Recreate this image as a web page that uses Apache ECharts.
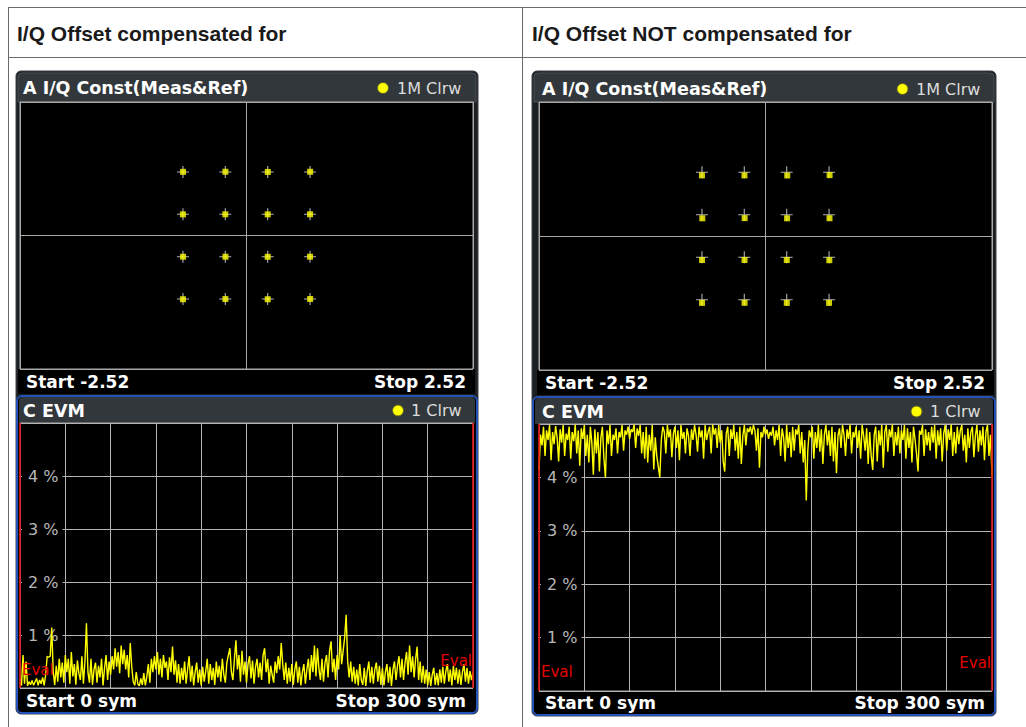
<!DOCTYPE html>
<html>
<head>
<meta charset="utf-8">
<style>
  html, body { margin: 0; padding: 0; background: #fff; }
  #chart { width: 1026px; height: 727px; }
</style>
<script src="https://cdn.jsdelivr.net/npm/echarts@6/dist/echarts.min.js"></script>
</head>
<body>
<div id="chart"></div>
<script>
// column headings
const headings = ['I/Q Offset compensated for', 'I/Q Offset NOT compensated for'];

// 16QAM reference points [I, Q]
const refPoints = [
  [-0.707, 0.707], [-0.236, 0.707], [0.236, 0.707], [0.707, 0.707],
  [-0.707, 0.236], [-0.236, 0.236], [0.236, 0.236], [0.707, 0.236],
  [-0.707, -0.236], [-0.236, -0.236], [0.236, -0.236], [0.707, -0.236],
  [-0.707, -0.707], [-0.236, -0.707], [0.236, -0.707], [0.707, -0.707]
];
// measured points, offset compensated
const measCompensated = [
  [-0.706, 0.708], [-0.235, 0.709], [0.237, 0.707], [0.708, 0.709],
  [-0.707, 0.235], [-0.236, 0.236], [0.236, 0.235], [0.707, 0.236],
  [-0.706, -0.236], [-0.234, -0.236], [0.236, -0.237], [0.707, -0.236],
  [-0.707, -0.709], [-0.235, -0.707], [0.236, -0.709], [0.708, -0.706]
];
// measured points, offset NOT compensated
const measOffset = [
  [-0.707, 0.672], [-0.234, 0.672], [0.242, 0.671], [0.713, 0.675],
  [-0.703, 0.196], [-0.232, 0.198], [0.240, 0.196], [0.712, 0.197],
  [-0.706, -0.266], [-0.233, -0.266], [0.237, -0.266], [0.710, -0.268],
  [-0.706, -0.741], [-0.233, -0.740], [0.237, -0.741], [0.707, -0.741]
];

// EVM in %, symbol 0..300
const evmCompensated = [
  0.10,0.05,0.62,0.08,0.50,0.04,0.12,0.06,0.14,0.05,
  0.12,0.18,0.05,0.15,0.08,0.20,0.05,0.25,0.60,0.58,
  0.60,1.14,0.30,0.06,0.42,0.12,0.55,0.20,0.48,0.10,
  0.62,0.30,0.55,0.08,0.68,0.22,0.45,0.06,0.52,0.28,
  0.15,0.60,0.08,0.50,1.22,0.30,0.10,0.55,0.06,0.35,
  0.48,0.10,0.42,0.20,0.55,0.05,0.38,0.62,0.15,0.50,
  0.25,0.60,0.35,0.75,0.40,0.68,0.28,0.80,0.45,0.72,
  0.35,0.62,0.20,0.85,0.40,0.12,0.05,0.30,0.08,0.04,
  0.18,0.06,0.28,0.05,0.22,0.45,0.10,0.55,0.30,0.60,
  0.35,0.68,0.25,0.55,0.20,0.62,0.38,0.50,0.15,0.58,
  0.30,0.78,0.25,0.52,0.10,0.45,0.08,0.38,0.15,0.50,
  0.08,0.35,0.60,0.12,0.42,0.05,0.30,0.48,0.10,0.35,
  0.05,0.40,0.12,0.32,0.55,0.08,0.45,0.15,0.38,0.06,
  0.50,0.20,0.42,0.12,0.55,0.25,0.10,0.48,0.62,0.75,
  0.30,0.15,0.55,0.90,0.35,0.62,0.12,0.70,0.25,0.50,
  0.10,0.45,0.60,0.18,0.52,0.08,0.40,0.55,0.20,0.48,
  0.15,0.62,0.75,0.30,0.55,0.08,0.42,0.25,0.10,0.50,
  0.28,0.60,0.35,0.85,0.45,0.15,0.48,0.08,0.38,0.12,
  0.45,0.06,0.35,0.50,0.10,0.40,0.05,0.30,0.45,0.08,
  0.35,0.55,0.15,0.62,0.30,0.80,0.22,0.75,0.35,0.15,
  0.55,0.12,0.48,0.62,0.20,0.70,0.88,0.30,0.55,0.15,
  0.62,0.35,1.00,0.45,0.70,0.95,1.38,0.50,0.20,0.50,
  0.12,0.40,0.08,0.35,0.05,0.45,0.15,0.06,0.38,0.04,
  0.32,0.50,0.10,0.40,0.08,0.35,0.48,0.12,0.42,0.06,
  0.38,0.05,0.30,0.45,0.10,0.40,0.04,0.35,0.50,0.15,
  0.42,0.60,0.20,0.55,0.15,0.48,0.68,0.25,0.80,0.30,
  0.60,0.20,0.55,0.78,0.15,0.50,0.10,0.42,0.08,0.35,
  0.05,0.30,0.04,0.25,0.38,0.06,0.28,0.05,0.35,0.10,
  0.40,0.08,0.32,0.45,0.12,0.35,0.05,0.42,0.15,0.38,
  0.08,0.35,0.06,0.30,0.45,0.12,0.38,0.08,0.32,0.15,0.30
];
const evmOffset = [
  4.14,4.80,4.60,4.95,4.40,4.88,4.70,4.98,4.32,4.85,
  4.62,4.96,4.75,4.30,4.90,4.65,4.98,4.40,4.82,4.70,
  4.95,4.35,4.85,4.68,4.99,4.45,4.88,4.22,4.92,4.72,
  4.98,4.40,4.80,4.28,4.95,4.65,4.05,4.90,4.45,4.85,
  4.11,4.75,4.95,4.35,4.00,4.88,4.62,4.98,4.40,4.80,
  4.70,4.92,4.45,4.85,4.75,4.98,4.50,4.88,4.80,4.95,
  4.72,4.90,4.85,4.99,4.55,4.92,4.78,4.98,4.45,4.85,
  4.35,4.95,4.28,4.80,4.50,4.98,4.15,4.75,4.40,4.20,
  4.00,4.70,4.95,4.85,4.45,4.98,4.75,4.90,4.38,4.82,
  4.95,4.55,4.88,4.32,4.98,4.72,4.85,4.45,4.92,4.78,
  4.40,4.90,4.70,4.98,4.80,4.48,4.95,4.75,4.88,4.35,
  4.98,4.70,4.85,4.95,4.45,4.99,4.80,4.92,4.55,4.98,
  4.65,4.88,4.30,4.11,4.82,4.95,4.40,4.90,4.72,4.98,
  4.50,4.85,4.35,4.95,4.25,4.78,4.98,4.60,4.92,4.85,
  4.95,4.80,4.98,4.88,4.50,4.92,4.18,4.85,4.75,4.95,
  4.80,4.90,4.72,4.85,4.78,4.95,4.60,4.88,4.70,4.98,
  4.40,4.92,4.75,4.30,4.98,4.55,4.85,4.38,4.95,4.50,
  4.90,4.80,4.98,4.45,4.85,4.28,4.70,3.57,4.50,4.88,
  4.75,4.95,4.35,4.85,4.55,4.98,4.48,4.90,4.25,4.80,
  4.98,4.60,4.88,4.40,4.95,4.30,4.85,4.08,4.78,4.92,
  4.55,4.98,4.80,4.40,4.90,4.72,4.99,4.45,4.85,4.75,
  4.95,4.55,4.88,4.35,4.98,4.78,4.50,4.92,4.25,4.85,
  4.40,4.14,4.80,4.95,4.30,4.88,4.60,4.98,4.18,4.85,
  4.98,4.48,4.90,4.75,4.99,4.40,4.85,4.60,4.95,4.45,
  4.88,4.70,4.98,4.35,4.92,4.55,4.85,4.28,4.95,4.72,
  4.45,4.11,4.88,4.80,4.98,4.40,4.90,4.60,4.85,4.50,
  4.95,4.65,4.98,4.35,4.88,4.60,4.92,4.30,4.82,4.98,
  4.50,4.90,4.70,4.99,4.40,4.85,4.45,4.95,4.62,4.88,
  4.98,4.50,4.80,4.28,4.92,4.55,4.85,4.95,4.38,4.78,
  4.98,4.48,4.88,4.60,4.95,4.32,4.85,4.98,4.40,4.80,4.03
];

const IQ_MAX = 2.52;     // Start -2.52 / Stop 2.52
const Q_MAX = 1.485;     // vertical span of the const display
const SYM_MAX = 300;

const chart = echarts.init(document.getElementById('chart'), null, { renderer: 'svg' });

const FONT_T = 'bold 17.5px "DejaVu Sans", Verdana, sans-serif';
const FONT_B = 'bold 17px "DejaVu Sans", Verdana, sans-serif';
const FONT_N = '16px "DejaVu Sans", Verdana, sans-serif';
const FONT_HEAD = 'bold 21px "Liberation Sans", Arial, sans-serif';
const BAR = '#32373b';

// layout of the two analyzer screens
const sides = [
  { fx: 16, fw: 462, fb: 714, px: 20, aTop: 102, aH: 267, cTop: 423, cH: 265, aTxt: 88, aFoot: 381.5, cBox: 396, cTxt: 410.5, cFoot: 700.5, evalL: 670, evalR: 661, dotA: 383, dotC: 398, legA: 397, legC: 411 },
  { fx: 532, fw: 464, fb: 716, px: 539, aTop: 102, aH: 268, cTop: 424, cH: 267, aTxt: 89, aFoot: 382.5, cBox: 397, cTxt: 411.5, cFoot: 703, evalL: 672, evalR: 663, dotA: 902.5, dotC: 916.5, legA: 916, legC: 930 }
];

function txt(text, x, y, font, fill, align) {
  return {
    type: 'text', z: 100,
    style: { text: text, x: x, y: y, font: font, fill: fill,
      textAlign: align || 'left', align: align || 'left',
      textVerticalAlign: 'middle', verticalAlign: 'middle' }
  };
}
function rect(x, y, w, h, style, r) {
  return { type: 'rect', z: -10, shape: { x: x, y: y, width: w, height: h, r: r || 0 }, style: style };
}

const graphic = [];
// table
graphic.push({ type: 'line', z: -10, shape: { x1: 8, y1: 7.5, x2: 1026, y2: 7.5 }, style: { stroke: '#6a6a6a', lineWidth: 1 } });
graphic.push({ type: 'line', z: -10, shape: { x1: 8, y1: 57.5, x2: 1026, y2: 57.5 }, style: { stroke: '#6a6a6a', lineWidth: 1 } });
graphic.push({ type: 'line', z: -10, shape: { x1: 8.5, y1: 7, x2: 8.5, y2: 727 }, style: { stroke: '#6a6a6a', lineWidth: 1 } });
graphic.push({ type: 'line', z: -10, shape: { x1: 522.5, y1: 7, x2: 522.5, y2: 727 }, style: { stroke: '#6a6a6a', lineWidth: 1 } });
graphic.push(txt(headings[0], 17, 33, FONT_HEAD, '#1a1a1a'));
graphic.push(txt(headings[1], 532, 33, FONT_HEAD, '#1a1a1a'));

sides.forEach(function (s) {
  const pw = 453;
  // outer screen frame
  graphic.push(rect(s.fx, 71, s.fw, s.fb - 71, { fill: '#1d2023', stroke: '#3c4146', lineWidth: 1 }, 5));
  // A title bar + footer
  graphic.push(rect(s.fx + 2, 73, s.fw - 4, 29, { fill: BAR, stroke: '#4a5055', lineWidth: 1 }, [4, 4, 0, 0]));
  graphic.push(rect(s.px - 2, s.aTop + s.aH, pw + 4, s.cBox - 2 - (s.aTop + s.aH), { fill: '#000' }));
  // C panel (blue focus frame)
  graphic.push(rect(s.fx + 1, s.cBox, s.fw - 2, s.fb - 1 - s.cBox, { fill: '#000', stroke: '#2452b8', lineWidth: 2 }, 5));
  graphic.push(rect(s.fx + 3, s.cBox + 1, s.fw - 6, s.cTop - s.cBox - 1, { fill: BAR }, [4, 4, 0, 0]));

  graphic.push(txt('A I/Q Const(Meas&Ref)', s.px + 3, s.aTxt, FONT_T, '#ffffff'));
  graphic.push({ type: 'circle', z: 100, shape: { cx: s.dotA, cy: s.aTxt, r: 5.5 }, style: { fill: '#ffff00', stroke: '#5a5a2a', lineWidth: 1 } });
  graphic.push(txt('1M Clrw', s.legA, s.aTxt, FONT_N, '#dcdcdc'));
  graphic.push(txt('Start -2.52', s.px + 6, s.aFoot, FONT_B, '#ffffff'));
  graphic.push(txt('Stop 2.52', s.px + pw - 7, s.aFoot, FONT_B, '#ffffff', 'right'));

  graphic.push(txt('C EVM', s.px + 3, s.cTxt, FONT_T, '#ffffff'));
  graphic.push({ type: 'circle', z: 100, shape: { cx: s.dotC, cy: s.cTxt, r: 5.5 }, style: { fill: '#ffff00', stroke: '#5a5a2a', lineWidth: 1 } });
  graphic.push(txt('1 Clrw', s.legC, s.cTxt, FONT_N, '#dcdcdc'));
  graphic.push(txt('Start 0 sym', s.px + 6, s.cFoot, FONT_B, '#ffffff'));
  graphic.push(txt('Stop 300 sym', s.px + pw - 7, s.cFoot, FONT_B, '#ffffff', 'right'));

  graphic.push(txt('Eval', s.px + 2, s.evalL, '15px "DejaVu Sans", Verdana, sans-serif', '#e60000'));
  graphic.push(txt('Eval', s.px + pw - 1, s.evalR, '15px "DejaVu Sans", Verdana, sans-serif', '#e60000', 'right'));
});

const grids = [], xAxes = [], yAxes = [];
sides.forEach(function (s) {
  grids.push({ left: s.px, top: s.aTop, width: 453, height: s.aH, show: true, backgroundColor: '#000', borderColor: '#a8a8a8', borderWidth: 1 });
});
sides.forEach(function (s) {
  grids.push({ left: s.px, top: s.cTop, width: 453, height: s.cH, show: true, backgroundColor: '#000', borderColor: '#a8a8a8', borderWidth: 1 });
});
[0, 1].forEach(function (g) {
  xAxes.push({ gridIndex: g, type: 'value', min: -IQ_MAX, max: IQ_MAX, interval: IQ_MAX,
    axisLine: { show: false }, axisTick: { show: false }, axisLabel: { show: false },
    splitLine: { lineStyle: { color: '#a8a8a8', width: 1 } } });
  yAxes.push({ gridIndex: g, type: 'value', min: -Q_MAX, max: Q_MAX, interval: Q_MAX,
    axisLine: { show: false }, axisTick: { show: false }, axisLabel: { show: false },
    splitLine: { lineStyle: { color: '#a8a8a8', width: 1 } } });
});
[2, 3].forEach(function (g) {
  xAxes.push({ gridIndex: g, type: 'value', min: 0, max: SYM_MAX, interval: 30,
    axisLine: { show: false }, axisTick: { show: false }, axisLabel: { show: false },
    splitLine: { lineStyle: { color: '#b4b4b4', width: 1 } } });
  yAxes.push({ gridIndex: g, type: 'value', min: 0, max: 5, interval: 1,
    axisLine: { show: false }, axisTick: { show: false },
    axisLabel: { show: true, inside: true, margin: 2, formatter: '{value} %',
      showMinLabel: false, showMaxLabel: false,
      color: '#b8b8b8', fontSize: 16, fontFamily: '"DejaVu Sans", Verdana, sans-serif',
      backgroundColor: '#000', padding: [2, 4, 2, 6] },
    splitLine: { lineStyle: { color: '#b4b4b4', width: 1 } } });
});

const crossSymbol = 'path://M5,0h1v5h5v1h-5v5h-1v-5h-5v-1h5z';
const series = [];
[[0, measCompensated], [1, measOffset]].forEach(function (p) {
  series.push({ type: 'scatter', xAxisIndex: p[0], yAxisIndex: p[0], data: refPoints,
    symbol: crossSymbol, symbolSize: 12, itemStyle: { color: '#dcdcdc' }, silent: true, z: 2 });
  series.push({ type: 'scatter', xAxisIndex: p[0], yAxisIndex: p[0], data: p[1],
    symbol: 'rect', symbolSize: 6, itemStyle: { color: '#ffff00' }, silent: true, z: 3 });
});
[[2, evmCompensated], [3, evmOffset]].forEach(function (p) {
  series.push({ type: 'line', xAxisIndex: p[0], yAxisIndex: p[0],
    data: p[1].map(function (v, i) { return [i, v]; }),
    showSymbol: false, clip: true, silent: true,
    lineStyle: { color: '#ffff00', width: 1.4 },
    markLine: { silent: true, symbol: 'none', label: { show: false },
      lineStyle: { color: '#e00000', type: 'solid', width: 1.5 },
      data: [{ xAxis: 0 }, { xAxis: SYM_MAX }] } });
});

chart.setOption({
  animation: false,
  backgroundColor: '#ffffff',
  grid: grids,
  xAxis: xAxes,
  yAxis: yAxes,
  series: series,
  graphic: graphic
});
</script>
</body>
</html>
